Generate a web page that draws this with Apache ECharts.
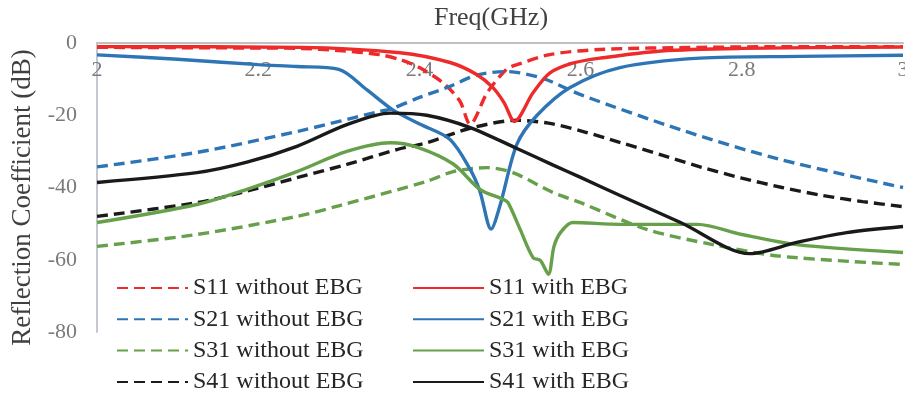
<!DOCTYPE html>
<html>
<head>
<meta charset="utf-8">
<script src="https://cdn.jsdelivr.net/npm/echarts@6/dist/echarts.min.js"></script>
<style>
html,body{margin:0;padding:0;background:#fff;}
#chart{width:905px;height:398px;}
</style>
</head>
<body>
<div id="chart"></div>
<script>
// ---- data (frequency in GHz, value in dB) ----
const xTicks = [2, 2.2, 2.4, 2.6, 2.8, 3];
const yTicks = [0, -20, -40, -60, -80];

const s11WithoutF = [2.0, 2.2, 2.252, 2.3, 2.35, 2.376, 2.4, 2.429, 2.45, 2.463, 2.484, 2.508, 2.521, 2.562, 2.624, 2.75, 2.9, 3.0];
const s11WithoutV = [-1.2, -1.4, -1.5, -2.1, -3.2, -4.6, -6.8, -11, -16, -22.5, -13.8, -7.3, -6, -3.2, -1.8, -1.2, -1.0, -1.0];

const s21WithoutF = [2.0, 2.124, 2.252, 2.351, 2.364, 2.401, 2.438, 2.471, 2.508, 2.553, 2.6, 2.724, 2.847, 3.0];
const s21WithoutV = [-34.3, -30.3, -24.3, -18.9, -18.3, -15, -12, -8.9, -7.9, -9.8, -14.3, -24, -32.2, -40];

const s31WithoutF = [2.0, 2.124, 2.248, 2.301, 2.409, 2.442, 2.484, 2.516, 2.566, 2.6, 2.682, 2.764, 2.847, 3.0];
const s31WithoutV = [-56.3, -53, -48, -45, -38.3, -35.6, -34.5, -35.9, -41.4, -44.2, -51.6, -55.8, -59, -61.3];

const s41WithoutF = [2.0, 2.124, 2.186, 2.248, 2.31, 2.372, 2.409, 2.463, 2.521, 2.56, 2.6, 2.65, 2.7, 2.75, 2.8, 2.85, 2.9, 2.95, 3.0];
const s41WithoutV = [-48, -44.2, -41, -37.3, -33.6, -29.5, -27.6, -23.6, -21.4, -22.2, -24.3, -27.6, -31, -34.4, -37.4, -40, -42.2, -43.9, -45.3];

const s11WithF = [2.0, 2.252, 2.376, 2.438, 2.471, 2.491, 2.505, 2.518, 2.541, 2.562, 2.59, 2.624, 2.7, 2.8, 3.0];
const s11WithV = [-1.0, -1.2, -2.7, -5.4, -8.7, -12.3, -16.5, -21.7, -13.8, -8.3, -5.6, -4.2, -2.2, -1.5, -1.1];

const s21WithF = [2.0, 2.1, 2.2, 2.248, 2.3, 2.335, 2.367, 2.401, 2.438, 2.463, 2.475, 2.489, 2.5, 2.521, 2.546, 2.587, 2.649, 2.748, 2.872, 3.0];
const s21WithV = [-3.3, -4.5, -6, -6.5, -7.3, -13, -18.5, -22.5, -26.7, -35, -41, -51.5, -45, -28, -20, -12.3, -6.8, -4.2, -3.7, -3.4];

const s31WithF = [2.0, 2.124, 2.186, 2.248, 2.31, 2.364, 2.397, 2.442, 2.475, 2.504, 2.51, 2.525, 2.541, 2.55, 2.56, 2.567, 2.575, 2.59, 2.649, 2.745, 2.8, 2.868, 3.0];
const s31WithV = [-49.7, -44.7, -40.5, -35.6, -30, -27.6, -28.8, -33.5, -40.5, -43.3, -44.2, -51.6, -59.4, -60.2, -64, -56.3, -52.5, -49.7, -50.2, -50.2, -53, -55.8, -58];

const s41WithF = [2.0, 2.124, 2.186, 2.248, 2.31, 2.364, 2.409, 2.463, 2.521, 2.566, 2.6, 2.649, 2.724, 2.81, 2.868, 2.93, 3.0];
const s41WithV = [-38.6, -35.9, -33, -28.6, -22.6, -19.4, -20, -23.4, -29.2, -33.8, -37.2, -42.2, -49.7, -58.3, -55.2, -52.5, -50.8];

const seriesNames = [
  'S11 without EBG', 'S21 without EBG', 'S31 without EBG', 'S41 without EBG',
  'S11 with EBG', 'S21 with EBG', 'S31 with EBG', 'S41 with EBG'
];

// ---- chart ----
const RED = '#ee2a2a', BLUE = '#2e75b6', GREEN = '#66a04a', BLACK = '#1a1a1a';
const SERIF = "'Liberation Serif', 'Times New Roman', serif";
const DASH = [11, 6];

function pairs(f, v) { return f.map((x, i) => [x, v[i]]); }

const defs = [
  [seriesNames[0], s11WithoutF, s11WithoutV, RED, true],
  [seriesNames[1], s21WithoutF, s21WithoutV, BLUE, true],
  [seriesNames[2], s31WithoutF, s31WithoutV, GREEN, true],
  [seriesNames[3], s41WithoutF, s41WithoutV, BLACK, true],
  [seriesNames[4], s11WithF, s11WithV, RED, false],
  [seriesNames[5], s21WithF, s21WithV, BLUE, false],
  [seriesNames[6], s31WithF, s31WithV, GREEN, false],
  [seriesNames[7], s41WithF, s41WithV, BLACK, false]
];

const series = defs.map(d => ({
  name: d[0],
  type: 'line',
  data: pairs(d[1], d[2]),
  showSymbol: false,
  symbol: 'none',
  smooth: 0.3,
  color: d[3],
  lineStyle: { color: d[3], width: 3.4, type: d[4] ? DASH : 'solid' },
  itemStyle: { color: d[3] },
  animation: false
}));

const chart = echarts.init(document.getElementById('chart'), null, { renderer: 'canvas' });
const legendText = { fontFamily: SERIF, fontSize: 24, color: '#262626', lineHeight: 24 };
const legendCommon = {
  orient: 'vertical', top: 276, padding: 0, itemGap: 7.3, itemWidth: 71, itemHeight: 14,
  textStyle: legendText, selectedMode: false,
  itemStyle: { opacity: 0, borderWidth: 0 }
};
chart.setOption({
  backgroundColor: '#ffffff',
  animation: false,
  grid: { left: 97, right: 2, top: 43, bottom: 66, containLabel: false, outerBoundsMode: 'none' },
  xAxis: {
    type: 'value', position: 'top', min: 2, max: 3, interval: 0.2,
    name: 'Freq(GHz)', nameLocation: 'middle', nameGap: 12,
    nameTextStyle: { fontFamily: SERIF, fontSize: 26, color: '#404040', padding: [0, 18, 0, 0] },
    axisLine: { show: true, lineStyle: { color: '#c0c0c0', width: 2 } },
    axisTick: { show: false },
    splitLine: { show: false },
    axisLabel: {
      inside: true, margin: 16, fontFamily: SERIF, fontSize: 22, color: '#7a7a7a',
      showMinLabel: true, showMaxLabel: true, hideOverlap: false,
      formatter: v => xTicks.includes(+v.toFixed(1)) ? String(+v.toFixed(1)) : ''
    }
  },
  yAxis: {
    type: 'value', min: -80, max: 0, interval: 20,
    name: 'Reflection Coefficient (dB)', nameLocation: 'middle', nameGap: 56, nameRotate: 90,
    nameTextStyle: { fontFamily: SERIF, fontSize: 27, color: '#404040', padding: [0, 20, 0, 0] },
    axisLine: { show: true, lineStyle: { color: '#c4c8d0', width: 2 } },
    axisTick: { show: false },
    splitLine: { show: false },
    axisLabel: {
      margin: 20, fontFamily: SERIF, fontSize: 22, color: '#7a7a7a',
      formatter: v => yTicks.includes(v) ? String(v) : ''
    }
  },
  legend: [
    Object.assign({ data: seriesNames.slice(0, 4), left: 116 }, legendCommon),
    Object.assign({ data: seriesNames.slice(4), left: 412 }, legendCommon)
  ],
  series: series
});
</script>
</body>
</html>
